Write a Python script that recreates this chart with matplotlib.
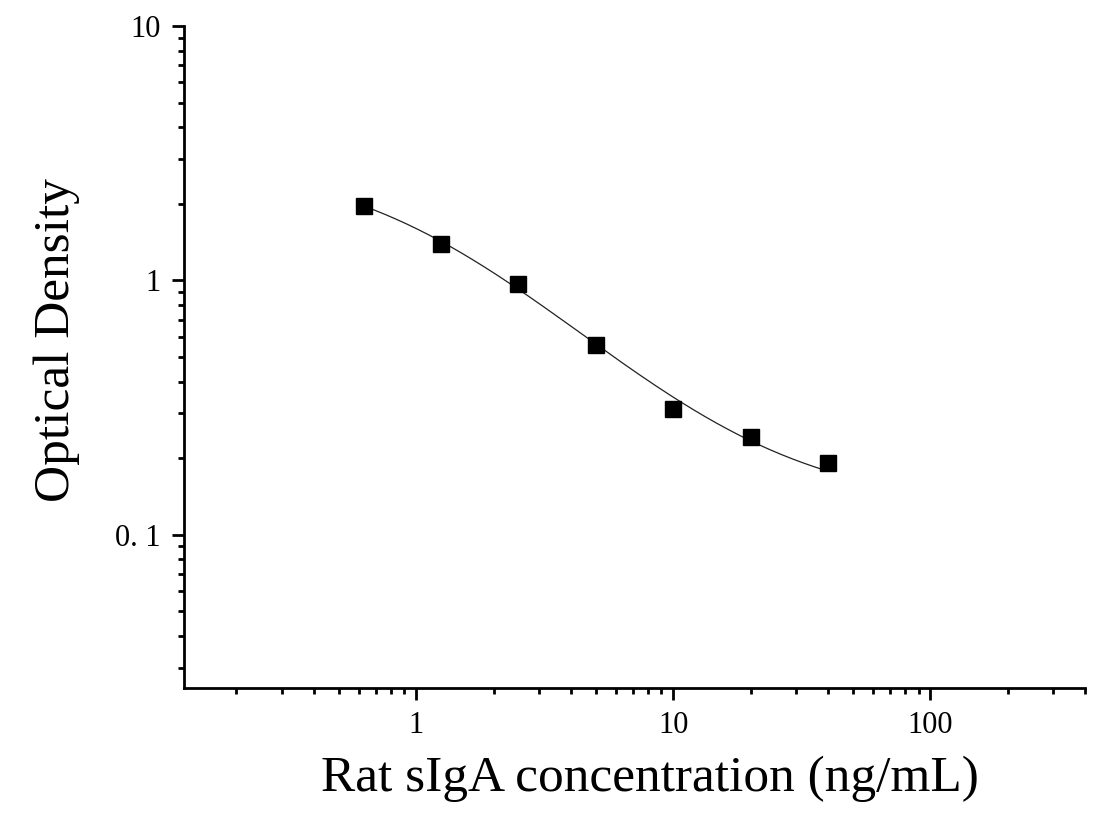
import numpy as np
import matplotlib
matplotlib.use("Agg")
import matplotlib.pyplot as plt
from matplotlib.ticker import FixedLocator, FixedFormatter, LogLocator, NullFormatter

# standard concentrations and measured OD
conc = [0.625, 1.25, 2.5, 5, 10, 20, 40]
od = [1.97, 1.39, 0.97, 0.555, 0.312, 0.242, 0.191]

ytick_vals = [0.1, 1, 10]
ytick_labels = ["0. 1", "1", "10"]
xtick_vals = [1, 10, 100]
xtick_labels = ["1", "10", "100"]


def fit4pl(x, y):
	# grid over c, b; a and d from linear least squares
	x = np.asarray(x, float)
	y = np.asarray(y, float)
	best = None
	for c in np.logspace(-0.5, 2, 300):
		for b in np.linspace(0.3, 3, 200):
			g = 1.0 / (1.0 + (x / c) ** b)
			A = np.column_stack([g, 1 - g])
			coef, res, rk, sv = np.linalg.lstsq(A, y, rcond=None)
			err = np.sum((A @ coef - y) ** 2)
			if best is None or err < best[0]:
				best = (err, coef[0], coef[1], c, b)
	return best[1:]


a, d, c, b = fit4pl(conc, od)
xx = np.logspace(np.log10(conc[0]), np.log10(conc[-1]), 300)
yy = d + (a - d) / (1 + (xx / c) ** b)

plt.rcParams['font.family'] = ['Liberation Serif', 'DejaVu Serif']

fig = plt.figure(figsize=(11.01, 8.21), dpi=100)
ax = fig.add_axes([0.1671, 0.162, 0.9855 - 0.1671, 0.9683 - 0.162])

ax.plot(xx, yy, color='#222222', lw=0.9)
ax.plot(conc, od, 's', color='black', markersize=11)

ax.set_xscale('log')
ax.set_yscale('log')
ax.set_xlim(0.125, 400)
ax.set_ylim(0.025, 10)

ax.spines['top'].set_visible(False)
ax.spines['right'].set_visible(False)
for s in ['left', 'bottom']:
	ax.spines[s].set_linewidth(2.0)

ax.xaxis.set_major_locator(FixedLocator(xtick_vals))
ax.xaxis.set_major_formatter(FixedFormatter(xtick_labels))
ax.yaxis.set_major_locator(FixedLocator(ytick_vals))
ax.yaxis.set_major_formatter(FixedFormatter(ytick_labels))
ax.xaxis.set_minor_locator(LogLocator(base=10, subs=np.arange(2, 10)))
ax.yaxis.set_minor_locator(LogLocator(base=10, subs=np.arange(2, 10)))
ax.xaxis.set_minor_formatter(NullFormatter())
ax.yaxis.set_minor_formatter(NullFormatter())

ax.tick_params(which='major', length=8.5, width=2.0, labelsize=22, pad=8)
ax.tick_params(which='minor', length=4.5, width=2.0)

ax.set_xlabel('Rat sIgA concentration (ng/mL)', fontsize=37, va='center')
ax.set_ylabel('Optical Density', fontsize=37, va='center')
ax.xaxis.set_label_coords(0.517, -0.137)
ax.yaxis.set_label_coords(-0.141, 0.526)

fig.savefig('out.png', dpi=100)
